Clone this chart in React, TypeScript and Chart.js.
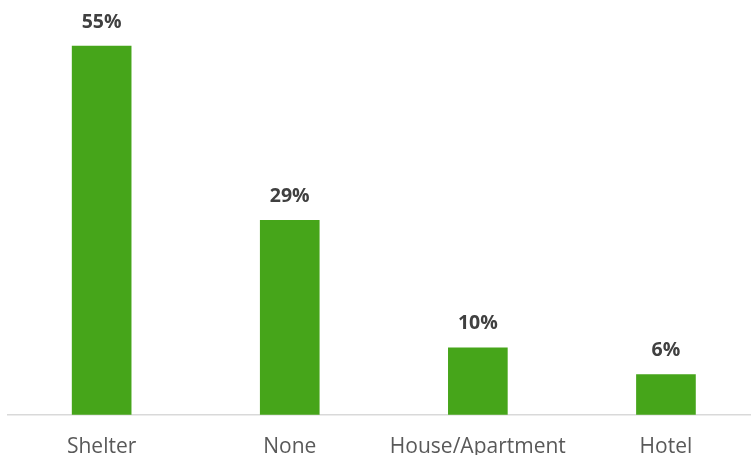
import React, { useEffect, useRef } from "react";
import { Chart, registerables } from "chart.js";

Chart.register(...registerables);

const categories = ["Shelter", "None", "House/Apartment", "Hotel"];
const values = [55, 29, 10, 6];
const valueLabels = ["55%", "29%", "10%", "6%"];

const FONT = "'Open Sans', sans-serif";

const dataLabelPlugin = {
  id: "dataLabels",
  afterDatasetsDraw(chart: any) {
    const ctx = chart.ctx;
    const meta = chart.getDatasetMeta(0);
    ctx.save();
    ctx.font = `bold 19.5px ${FONT}`;
    ctx.fillStyle = "#404040";
    ctx.textAlign = "center";
    ctx.textBaseline = "middle";
    meta.data.forEach((bar: any, i: number) => {
      ctx.fillText(valueLabels[i], bar.x, bar.y - 24);
    });
    ctx.restore();
  },
};

export default function App() {
  const ref = useRef<HTMLCanvasElement | null>(null);
  useEffect(() => {
    if (!ref.current) return;
    const chart = new Chart(ref.current, {
      type: "bar",
      data: {
        labels: categories,
        datasets: [
          {
            data: values,
            backgroundColor: "#46A51A",
            borderWidth: 0,
            barThickness: 59,
          },
        ],
      },
      options: {
        responsive: false,
        animation: false,
        layout: { padding: { left: 7.6, right: 10, top: 12.5, bottom: 0 } },
        plugins: {
          legend: { display: false },
          tooltip: { enabled: false },
        },
        scales: {
          x: {
            grid: { display: false },
            border: { display: true, color: "#D9D9D9", width: 1.5 },
            ticks: {
              color: "#595959",
              font: { family: FONT, size: 21 },
              padding: 12,
              maxRotation: 0,
              autoSkip: false,
            },
          },
          y: {
            display: false,
            min: 0,
            max: 60,
          },
        },
      },
      plugins: [dataLabelPlugin],
    });
    return () => chart.destroy();
  }, []);
  return (
    <div
      style={{
        position: "fixed",
        left: 0,
        top: 0,
        width: 751,
        height: 455,
        overflow: "hidden",
        background: "#fff",
      }}
    >
      <canvas ref={ref} width={770} height={472} style={{ display: "block" }} />
    </div>
  );
}
